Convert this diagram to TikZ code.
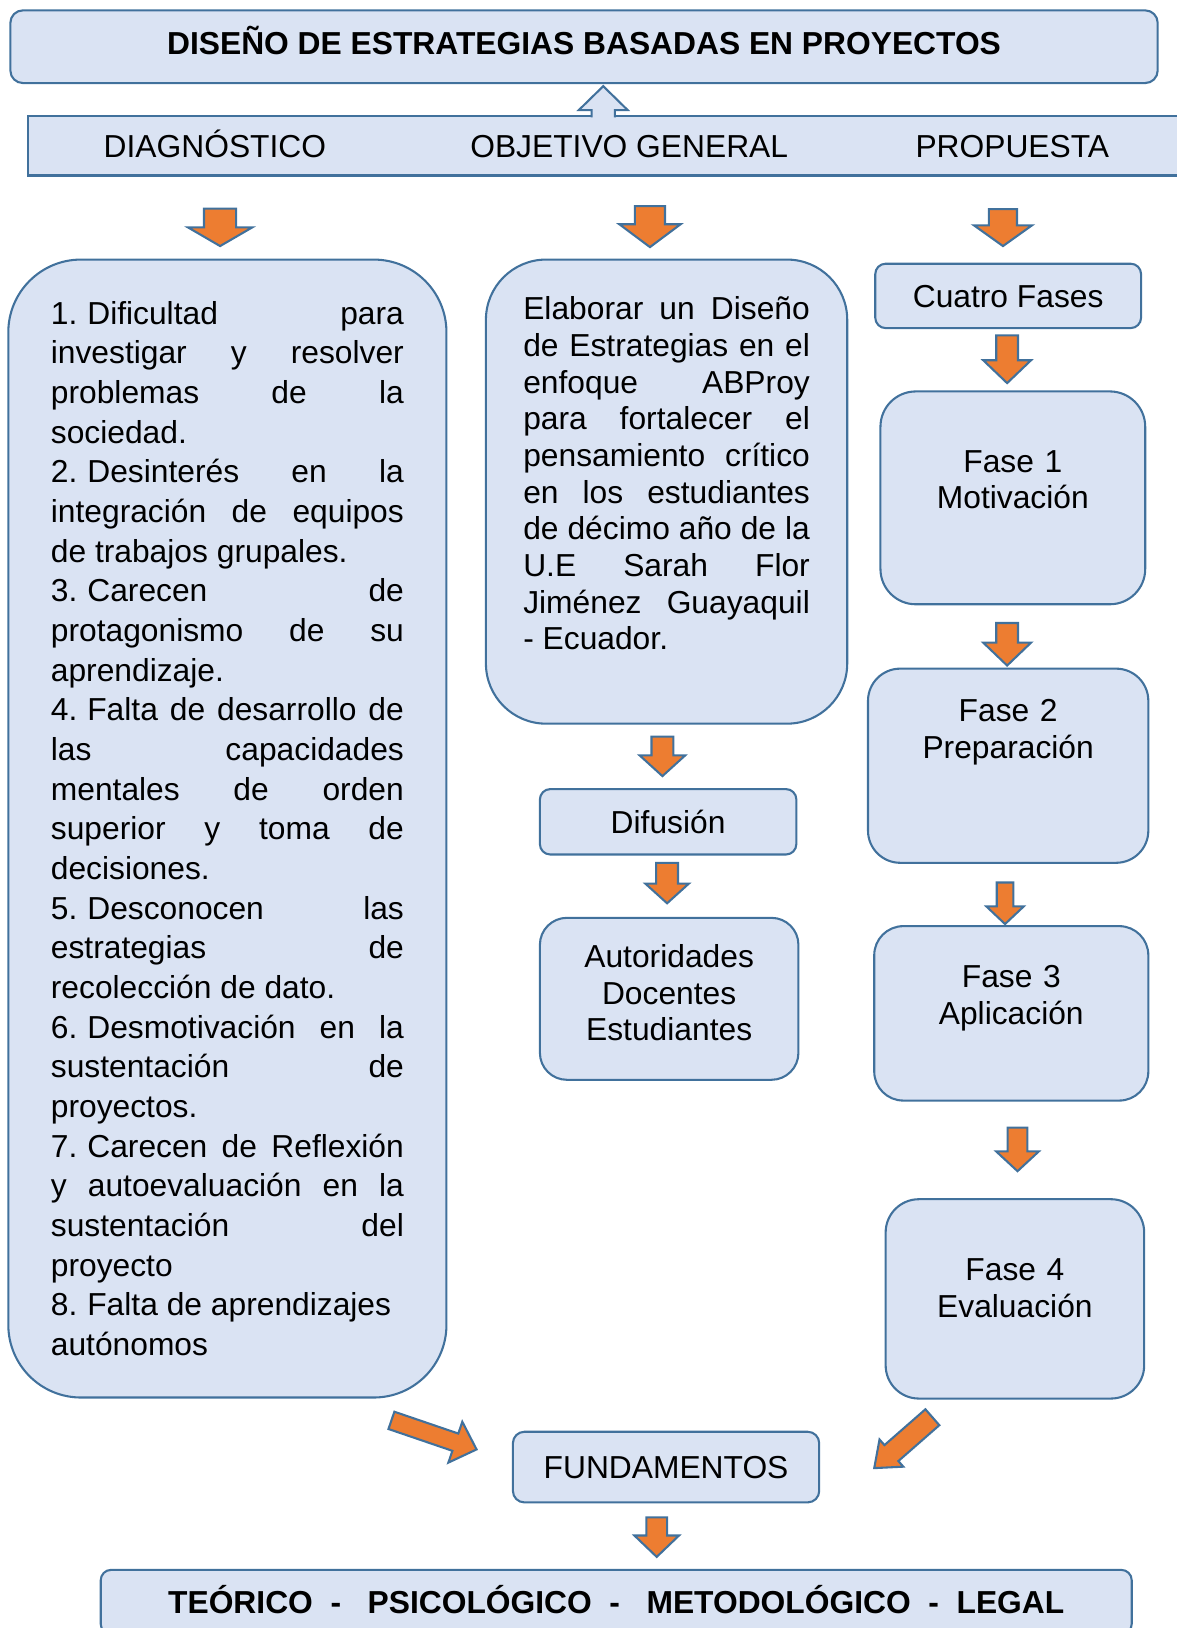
\documentclass[tikz,border=0pt]{standalone}
\usepackage{fontspec}
\setmainfont{Liberation Sans}
\usepackage{tikz}
\usetikzlibrary{calc}
\definecolor{boxblue}{RGB}{218, 227, 243}
\definecolor{lineblue}{RGB}{65, 113, 156}
\definecolor{arroworange}{RGB}{237, 125, 49}
\setlength{\parindent}{0pt}
\frenchspacing
\tolerance=10000
\hbadness=10000
\newcommand{\itemno}[1]{#1.\hspace{4.8pt}}

\tikzset{
  box/.style={draw=lineblue, fill=boxblue, line width=1pt, inner sep=0pt, text=black, font=\fontsize{15.3}{17.65}\selectfont},
  oneline/.style={text height=10.95pt, text depth=0pt},
  bandtext/.style={anchor=base, inner sep=0pt, font=\fontsize{15.3}{17.65}\selectfont},
  blkarrow/.style={draw=lineblue, fill=arroworange, line width=1pt, line join=miter}
}

% block arrow: from, to, half shaft, half head, head length
\newcommand{\blkarr}[5]{%
  \coordinate (ba) at #1;
  \coordinate (bb) at #2;
  \coordinate (bh) at ($(bb)!#5!(ba)$);
  \draw[blkarrow] ($(ba)!#3!90:(bb)$) -- ($(bh)!#3!90:(bb)$) -- ($(bh)!#4!90:(bb)$) -- (bb)
    -- ($(bh)!#4!-90:(bb)$) -- ($(bh)!#3!-90:(bb)$) -- ($(ba)!#3!-90:(bb)$) -- cycle;
}

\begin{document}
\begin{tikzpicture}[x=0.5pt, y=-0.5pt]
  \useasboundingbox (0,0) rectangle (1133,1568);

  % title and band
  \node[box, rounded corners=6pt, minimum width=552.5pt, minimum height=35pt, text height=10.95pt, text depth=3pt, font=\fontsize{15.3}{17.65}\selectfont\bfseries] (titulo) at (562.5,45) {DISEÑO DE ESTRATEGIAS BASADAS EN PROYECTOS};
  \node[box, minimum width=561.5pt, minimum height=28.5pt] (banda) at (588.5,140.5) {};
  \node[bandtext] (diag) at (207,152) {DIAGNÓSTICO};
  \node[bandtext] (obj) at (606,152) {OBJETIVO GENERAL};
  \node[bandtext] (prop) at (975,152) {PROPUESTA};

  \coordinate (upbase) at ($(titulo.south)+(18.5,33.5)$);
  \coordinate (uptip) at ($(titulo.south)+(18.5,2)$);
  \fill[boxblue] ($(upbase)+(-11.25,0)$) -- ($(upbase)+(-11.25,-8.5)$) -- ($(upbase)+(-23.5,-8.5)$) -- (uptip)
    -- ($(upbase)+(23.5,-8.5)$) -- ($(upbase)+(11.25,-8.5)$) -- ($(upbase)+(11.25,0)$) -- cycle;
  \draw[lineblue, line width=1pt, line join=miter] ($(upbase)+(-11.25,-1.5)$) -- ($(upbase)+(-11.25,-8.5)$) -- ($(upbase)+(-23.5,-8.5)$) -- (uptip)
    -- ($(upbase)+(23.5,-8.5)$) -- ($(upbase)+(11.25,-8.5)$) -- ($(upbase)+(11.25,-1.5)$);

  % diagnostico
  \node[box, rounded corners=35pt, minimum width=211pt, minimum height=548pt, text width=170pt, align=justify, font=\fontsize{15.3}{19.1}\selectfont] (diaglist) at (219,798) {%
    \itemno{1}Dificultad para\linebreak investigar y resolver\linebreak problemas de la\linebreak sociedad.\par
    \itemno{2}Desinterés en la\linebreak integración de equipos\linebreak de trabajos grupales.\par
    \itemno{3}Carecen de\linebreak protagonismo de su\linebreak aprendizaje.\par
    \itemno{4}Falta de desarrollo de\linebreak las capacidades\linebreak mentales de orden\linebreak superior y toma de\linebreak decisiones.\par
    \itemno{5}Desconocen las\linebreak estrategias de\linebreak recolección de dato.\par
    \itemno{6}Desmotivación en la\linebreak sustentación de\linebreak proyectos.\par
    \itemno{7}Carecen de Reflexión\linebreak y autoevaluación en la\linebreak sustentación del\linebreak proyecto\par
    \itemno{8}Falta de aprendizajes\newline autónomos};

  % objetivo
  \node[box, rounded corners=29pt, minimum width=174pt, minimum height=223.5pt, text width=138pt, align=justify] (objtext) at (642,473.5) {%
    Elaborar un Diseño\linebreak de Estrategias en el\linebreak enfoque ABProy\linebreak para fortalecer el\linebreak pensamiento crítico\linebreak en los estudiantes\linebreak de décimo año de la\linebreak U.E Sarah Flor\linebreak Jiménez Guayaquil\linebreak - Ecuador.\par\mbox{}};
  \node[box, oneline, rounded corners=5pt, minimum width=123.5pt, minimum height=31.5pt] (difusion) at (643.5,791.5) {Difusión};
  \node[box, rounded corners=13pt, minimum width=124.5pt, minimum height=78pt, text width=118pt, align=center] (actores) at (644.5,962) {Autoridades\\Docentes\\Estudiantes\\[-11.65pt]\mbox{}};

  % propuesta
  \node[box, oneline, rounded corners=5pt, minimum width=128pt, minimum height=31pt] (cuatro) at (971,285) {Cuatro Fases};
  \node[box, rounded corners=17pt, minimum width=127.5pt, minimum height=102.5pt, text width=120pt, align=center] (fase1) at (975.5,479.5) {Fase 1\\Motivación\\\mbox{}};
  \node[box, rounded corners=15.5pt, minimum width=135pt, minimum height=93.5pt, text width=128pt, align=center] (fase2) at (971,737.5) {Fase 2\\Preparación\\\mbox{}\\\mbox{}};
  \node[box, rounded corners=14pt, minimum width=132pt, minimum height=84pt, text width=125pt, align=center] (fase3) at (974,976) {Fase 3\\Aplicación\\\mbox{}};
  \node[box, rounded corners=16pt, minimum width=124.5pt, minimum height=96pt, text width=118pt, align=center] (fase4) at (977.5,1251) {Fase 4\\Evaluación\\[-7pt]\mbox{}};

  % fundamentos
  \node[box, oneline, rounded corners=5.5pt, minimum width=147.5pt, minimum height=34pt] (fundam) at (641.5,1413) {FUNDAMENTOS};
  \node[box, oneline, rounded corners=5pt, minimum width=496.5pt, minimum height=31pt, font=\fontsize{15.3}{17.65}\selectfont\bfseries] (ejes) at (593.5,1543) {TEÓRICO\ \ -\ \ \ PSICOLÓGICO\ \ -\ \ \ METODOLÓGICO\ \ -\ \ LEGAL};

  % arrows
  \blkarr{($(diag |- banda.south)+(5,31)$)}{($(diaglist.north)+(-7,-12)$)}{7.75pt}{15.5pt}{9pt}
  \blkarr{($(obj |- banda.south)+(20,28.5)$)}{($(objtext.north)+(-16,-11)$)}{7.25pt}{14.75pt}{11pt}
  \blkarr{($(prop |- banda.south)+(-9,31.5)$)}{($(cuatro.north)+(-5,-16)$)}{6.75pt}{14pt}{10pt}
  \blkarr{($(cuatro.south)+(-1,6)$)}{($(fase1.north)+(-5.5,-7)$)}{5.25pt}{11.5pt}{11pt}
  \blkarr{($(fase1.south)+(-5.5,17)$)}{($(fase2.north)+(-1,-2)$)}{5.25pt}{11.5pt}{11pt}
  \blkarr{($(objtext.south)+(-4,11.5)$)}{($(difusion.north)+(-5.5,-11.5)$)}{5.25pt}{11pt}{10pt}
  \blkarr{($(difusion.south)+(-1,7)$)}{($(actores.north)+(-2,-13)$)}{5.25pt}{10.5pt}{9.5pt}
  \blkarr{($(fase2.south)+(-3,18)$)}{($(fase3.north)+(-6,-1)$)}{4pt}{9pt}{8.5pt}
  \blkarr{($(fase3.south)+(6,25)$)}{($(fase4.north)+(2.5,-26)$)}{4.75pt}{10.25pt}{9.5pt}
  \blkarr{($(fundam.south)+(-9,13.5)$)}{($(ejes.north)+(39,-11.5)$)}{5pt}{10.75pt}{10.3pt}
  \blkarr{($(diaglist.south)+(158,21)$)}{($(fundam.west)+(-34,-17)$)}{4.4pt}{10.4pt}{10.8pt}
  \blkarr{($(fase4.south)+(-79.5,17)$)}{($(fundam.east)+(52,1)$)}{5.1pt}{8.7pt}{11pt}
\end{tikzpicture}
\end{document}
